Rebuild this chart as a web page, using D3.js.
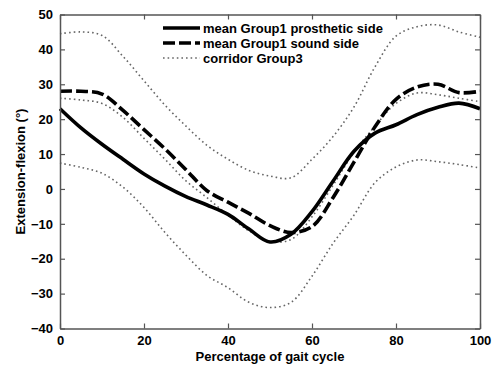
<!DOCTYPE html>
<html><head><meta charset="utf-8">
<script src="https://cdn.jsdelivr.net/npm/d3@7"></script>
<style>body{margin:0;background:#fff}svg{display:block}</style>
</head><body><svg id="c" width="495" height="370"></svg>
<script>
const xs = [0,5,10,15,20,25,30,35,40,45,50,55,60,65,70,75,80,85,90,95,100];
const prosthetic = [23,17.5,12.8,8.5,4.3,0.8,-2.2,-4.6,-7.3,-11.5,-15.2,-13,-6.5,2.2,10.8,16,18.4,21.3,23.4,24.6,23];
const sound = [28,28,27.2,22.5,17,11.5,5.5,-0.5,-3.8,-7,-10.5,-12.5,-10.8,-2.5,7.7,17.8,25.7,29.2,30,27.6,28];
const corrUpper = [44.5,45,44,38,31,24,18,12.5,8.5,5.3,3.7,3.2,8.5,15,23.5,35,43.8,46.5,47,45,43.5];
const corrMid = [26,25.5,24.5,20.5,14.5,8.5,2.3,-2.5,-7.5,-12,-15,-14.5,-8,1,10.5,18,24.5,27.5,27,26,25];
const corrLower = [7.4,6.2,4.5,0.5,-5.3,-12.5,-19,-24.8,-28.3,-32.5,-34,-32.5,-25,-15.6,-7.5,1.8,6.3,8.3,7.8,7,6];
const xTicks = [0,20,40,60,80,100];
const yTicks = [-40,-30,-20,-10,0,10,20,30,40,50];
const legendLabels = ["mean Group1 prosthetic side","mean Group1 sound side","corridor Group3"];

const svg = d3.select("#c");
const L=60,R=480,T=14.5,B=328.5;
const x = d3.scaleLinear().domain([0,100]).range([L,R]);
const y = d3.scaleLinear().domain([-40,50]).range([B,T]);
const font = "'Liberation Sans', Arial, sans-serif";
const axCol = "#555";

const line = d3.line().x((d,i)=>x(xs[i])).y(d=>y(d)).curve(d3.curveCatmullRom.alpha(0.5));

// legend background (drawn under the curves)
svg.append("rect").attr("x",158).attr("y",17).attr("width",228).attr("height",52).attr("fill","#fff");

// dotted corridor
[corrUpper, corrMid, corrLower].forEach(s=>{
  svg.append("path").attr("d", line(s)).attr("fill","none")
    .attr("stroke","#666").attr("stroke-width",1.6).attr("stroke-dasharray","1.6,3");
});
svg.append("path").attr("d", line(sound)).attr("fill","none")
  .attr("stroke","#000").attr("stroke-width",3.6).attr("stroke-dasharray","12,4");
svg.append("path").attr("d", line(prosthetic)).attr("fill","none")
  .attr("stroke","#000").attr("stroke-width",3.6);

// axes
const gx = svg.append("g").attr("transform",`translate(0,${B})`)
  .call(d3.axisBottom(x).tickValues(xTicks).tickSizeInner(-5).tickSizeOuter(0).tickPadding(7));
const gy = svg.append("g").attr("transform",`translate(${L},0)`)
  .call(d3.axisLeft(y).tickValues(yTicks).tickSizeInner(-5).tickSizeOuter(0).tickPadding(7));
const gt = svg.append("g").attr("transform",`translate(0,${T})`)
  .call(d3.axisTop(x).tickValues(xTicks).tickSizeInner(-5).tickSizeOuter(0).tickFormat(""));
const gr = svg.append("g").attr("transform",`translate(${R},0)`)
  .call(d3.axisRight(y).tickValues(yTicks).tickSizeInner(-5).tickSizeOuter(0).tickFormat(""));
[gx,gy,gt,gr].forEach(g=>{
  g.select(".domain").attr("stroke",axCol).attr("stroke-width",1.5);
  g.selectAll(".tick line").attr("stroke",axCol).attr("stroke-width",1.2);
  g.selectAll(".tick text").attr("fill","#000").style("font-family",font)
   .style("font-size","13px").style("font-weight","bold");
});

// legend entries
const lg = svg.append("g");
const lstyles = [{w:3.6,d:null,c:"#000"},{w:3.6,d:"12,4",c:"#000"},{w:1.6,d:"1.6,3",c:"#666"}];
legendLabels.forEach((t,i)=>{
  const yy = 28 + i*15;
  lg.append("line").attr("x1",163).attr("x2",200).attr("y1",yy).attr("y2",yy)
    .attr("stroke",lstyles[i].c).attr("stroke-width",lstyles[i].w)
    .attr("stroke-dasharray",lstyles[i].d);
  lg.append("text").attr("x",203).attr("y",yy).attr("dy","0.35em").text(t)
    .style("font-family",font).style("font-size","13px").style("font-weight","bold");
});

// axis labels
svg.append("text").attr("x",(L+R)/2).attr("y",361).attr("text-anchor","middle")
  .text("Percentage of gait cycle").style("font-family",font).style("font-size","13px").style("font-weight","bold");
svg.append("text").attr("transform",`translate(25,${(T+B)/2}) rotate(-90)`).attr("text-anchor","middle")
  .text("Extension-flexion (°)").style("font-family",font).style("font-size","13px").style("font-weight","bold");
</script></body></html>
